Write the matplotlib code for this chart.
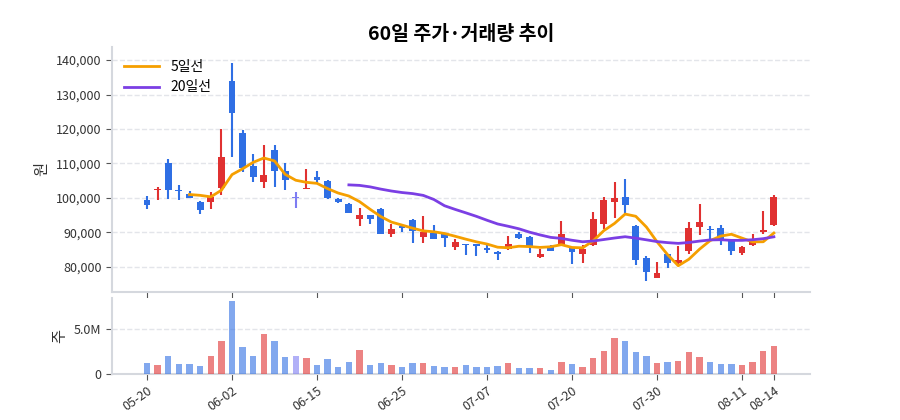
import numpy as np
import matplotlib.pyplot as plt
from matplotlib.ticker import FuncFormatter

plt.rcParams['font.family'] = ['Noto Sans CJK KR', 'DejaVu Sans']

dates = ['05-20', '06-02', '06-15', '06-25', '07-07', '07-20', '07-30', '08-11', '08-14']
date_pos = [0, 8, 16, 24, 32, 40, 48, 56, 59]

opens = [99400, 102200, 110100, 102400, 101000, 98800, 98900, 102800, 133800, 118900,
         109300, 104500, 113800, 107900, 100000, 102500, 106100, 105000, 99800, 98200,
         93800, 95000, 96900, 89500, 91700, 93700, 88700, 89900, 89400, 85700,
         86500, 86500, 85400, 84400, 85200, 89600, 88700, 82900, 86000, 86400,
         85500, 83700, 86300, 92300, 98800, 100300, 91900, 82400, 76700, 83600,
         81000, 84700, 91500, 91000, 91300, 87900, 84100, 86200, 90000, 92000]
closes = [97800, 102600, 102400, 102000, 100100, 96600, 100400, 112000, 124700, 108600,
          106000, 106600, 107700, 105300, 100000, 103000, 105100, 100000, 98900, 95700,
          94900, 93900, 89500, 90900, 91300, 90400, 90000, 88200, 88400, 87300,
          86200, 86100, 85000, 83800, 86500, 88400, 85600, 83800, 84700, 89600,
          84300, 85100, 94000, 99500, 100000, 97900, 81900, 78400, 78100, 81200,
          81900, 91300, 93000, 90600, 87700, 84600, 85700, 87500, 90800, 100400]
highs = [100500, 103100, 111200, 103600, 101900, 99000, 101700, 119900, 139300, 119700,
         112600, 115500, 115300, 110100, 101700, 108300, 107800, 105100, 100000, 98500,
         97200, 95100, 97100, 92500, 92100, 93800, 94800, 92000, 89600, 88100,
         86700, 86700, 86200, 84700, 88900, 90000, 88900, 85300, 86400, 93200,
         85500, 86300, 95800, 100300, 104500, 105400, 92000, 83100, 81300, 83700,
         86000, 93100, 98100, 91700, 92200, 88200, 86100, 89600, 96200, 100700]
lows = [96800, 99500, 99700, 99500, 99900, 95300, 96800, 100900, 112000, 107400,
        104700, 102900, 103100, 102200, 97000, 102500, 104200, 99800, 98400, 95600,
        91700, 92400, 89400, 88500, 90000, 87000, 86800, 88100, 85600, 85000,
        83300, 83200, 84000, 82100, 85000, 88200, 84000, 82400, 84700, 86300,
        80900, 81000, 86100, 91000, 94300, 95500, 80500, 76000, 76600, 79700,
        80800, 83800, 89100, 87700, 86200, 83500, 83500, 86100, 89600, 91900]
volumes = [1.17, 1.05, 2.0, 1.09, 1.09, 0.94, 1.95, 3.65, 8.08, 3.0,
           2.0, 4.47, 3.68, 1.88, 1.95, 1.77, 0.98, 1.62, 0.75, 1.32,
           2.63, 0.98, 1.2, 1.05, 0.75, 1.17, 1.2, 0.94, 0.75, 0.83,
           0.98, 0.83, 0.75, 0.86, 1.2, 0.64, 0.64, 0.71, 0.49, 1.39,
           1.09, 0.83, 1.73, 2.52, 3.98, 3.68, 2.44, 1.95, 1.17, 1.39,
           1.43, 2.44, 1.88, 1.39, 1.09, 1.09, 1.05, 1.32, 2.56, 3.08]

opens = np.array(opens)
closes = np.array(closes)
highs = np.array(highs)
lows = np.array(lows)
vol = np.array(volumes) * 1e6
x = np.arange(len(closes))

up_c = '#e03131'
down_c = '#2f6fe4'
flat_c = '#7d7cf2'
colors = [up_c if c > o else (down_c if c < o else flat_c) for o, c in zip(opens, closes)]

ma5 = np.convolve(closes, np.ones(5) / 5, mode='valid')
ma20 = np.convolve(closes, np.ones(20) / 20, mode='valid')

fig = plt.figure(figsize=(9, 4.2), dpi=100)
ax1 = fig.add_axes([0.1244, 0.305, 0.7756, 0.583])
ax2 = fig.add_axes([0.1244, 0.1095, 0.7756, 0.181], sharex=ax1)

# candles
body_h = np.maximum(np.abs(closes - opens), 300)
body_b = np.minimum(opens, closes)
ax1.vlines(x, lows, highs, colors=colors, linewidth=1.5, zorder=2)
ax1.bar(x, body_h, bottom=body_b, width=0.65, color=colors, zorder=3)

ax1.plot(x[4:], ma5, color='#f59f00', linewidth=2, label='5일선', zorder=4)
ax1.plot(x[19:], ma20, color='#7b3fe4', linewidth=2, label='20일선', zorder=4)

ax1.set_ylim(72700, 143800)
ax1.set_yticks([80000, 90000, 100000, 110000, 120000, 130000, 140000])
ax1.yaxis.set_major_formatter(FuncFormatter(lambda v, p: f'{int(v):,}'))
ax1.set_ylabel('원', fontsize=11, color='#333333')
ax1.grid(axis='y', linestyle='--', color='#e3e5ea', linewidth=1)
ax1.set_axisbelow(True)
ax1.legend(loc='upper left', frameon=False, fontsize=10, handlelength=2.5)
ax1.tick_params(axis='x', labelbottom=False)
ax1.set_title('60일 주가·거래량 추이', fontsize=14, fontweight='bold', pad=5)

# volume
ax2.bar(x, vol, width=0.6, color=colors, alpha=0.6, zorder=3)
ax2.set_ylim(0, 8.45e6)
ax2.set_yticks([0, 5e6])
ax2.yaxis.set_major_formatter(FuncFormatter(lambda v, p: '0' if v == 0 else f'{v / 1e6:.1f}M'))
ax2.set_ylabel('주', fontsize=11, color='#333333')
ax2.grid(axis='y', linestyle='--', color='#e3e5ea', linewidth=1)
ax2.set_axisbelow(True)

ax2.set_xlim(-3.3, 62.4)
ax2.set_xticks(date_pos)
ax2.set_xticklabels(dates, rotation=35, ha='right', rotation_mode='anchor')

for ax in (ax1, ax2):
    for s in ('top', 'right'):
        ax.spines[s].set_visible(False)
    for s in ('left', 'bottom'):
        ax.spines[s].set_color('#d5d8de')
        ax.spines[s].set_linewidth(1.5)
    ax.tick_params(colors='#333333', labelsize=9, length=4)
    ax.tick_params(axis='both', color='#555555')

fig.savefig('out.png', dpi=100)
